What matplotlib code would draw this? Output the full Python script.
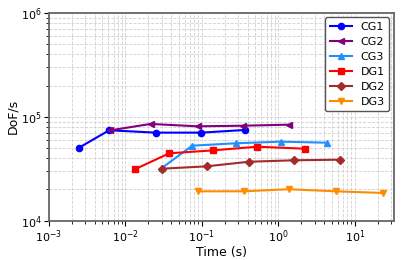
import matplotlib
matplotlib.use("Agg")
import matplotlib.pyplot as plt

labels = ["CG1", "CG2", "CG3", "DG1", "DG2", "DG3"]
colors = ["blue", "purple", "dodgerblue", "red", "brown", "darkorange"]
markers = ["o", "<", "^", "s", "D", "v"]

cg1_t = [0.00247, 0.00614, 0.0248, 0.098, 0.368]
cg1_d = [50500, 74300, 70500, 70500, 74800]
cg2_t = [0.0062, 0.0213, 0.0879, 0.34, 1.36]
cg2_d = [74000, 85500, 81100, 82200, 84100]
cg3_t = [0.0303, 0.0746, 0.278, 1.07, 4.3]
cg3_d = [32400, 52800, 55700, 57700, 56400]
dg1_t = [0.0133, 0.0374, 0.1406, 0.528, 2.2]
dg1_d = [31300, 44600, 47600, 51600, 49400]
dg2_t = [0.030, 0.115, 0.415, 1.61, 6.43]
dg2_d = [31700, 33400, 37000, 38200, 38700]
dg3_t = [0.088, 0.357, 1.36, 5.7, 23.7]
dg3_d = [19200, 19200, 20100, 19200, 18500]

series = [(cg1_t, cg1_d), (cg2_t, cg2_d), (cg3_t, cg3_d),
          (dg1_t, dg1_d), (dg2_t, dg2_d), (dg3_t, dg3_d)]

fig = plt.figure(figsize=(4.15, 2.6), dpi=100)
ax = fig.add_axes([0.118, 0.151, 0.831, 0.799])
for (t, d), lab, c, m in zip(series, labels, colors, markers):
    ax.plot(t, d, color=c, marker=m, markersize=4.5, linewidth=1.5, label=lab)

ax.set_xscale("log")
ax.set_yscale("log")
ax.set_xlim(1e-3, 10**1.51)
ax.set_ylim(1e4, 1e6)
ax.grid(True, which="both", linestyle="--", color="#d0d0d0", linewidth=0.6)
ax.set_axisbelow(True)
for s in ax.spines.values():
    s.set_color("#666666")
    s.set_linewidth(1.3)
ax.tick_params(labelsize=8, pad=2)
ax.set_xlabel("Time (s)", fontsize=9, labelpad=1)
ax.set_ylabel("DoF/s", fontsize=9, labelpad=1)
leg = ax.legend(loc="upper right", fontsize=8, frameon=True, fancybox=True,
                handlelength=2.0, labelspacing=0.45, borderpad=0.4,
                borderaxespad=0.4)
leg.get_frame().set_edgecolor("#555555")
leg.get_frame().set_alpha(1)
fig.savefig("out.png", dpi=100)
